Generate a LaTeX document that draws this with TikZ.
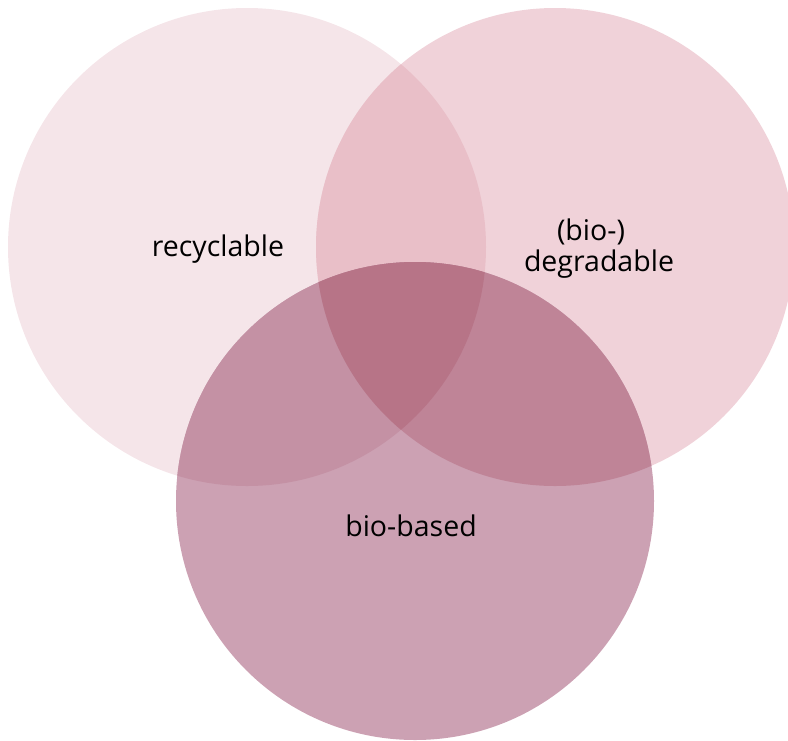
\documentclass[tikz,border=0pt]{standalone}
\usepackage{fontspec}
\setmainfont{Open Sans}
\definecolor{cA}{HTML}{F5E5E9}
\definecolor{cB}{HTML}{F0D2D9}
\definecolor{cC}{HTML}{CCA1B3}
\definecolor{cAB}{HTML}{E9BFC8}
\definecolor{cAC}{HTML}{C491A4}
\definecolor{cBC}{HTML}{BF8497}
\definecolor{cABC}{HTML}{B77487}
\tikzset{lbl/.style={inner sep=0pt, font=\fontsize{28.5}{34}\selectfont, text=black}}
\begin{document}
\begin{tikzpicture}[x=1pt,y=-1pt]
\useasboundingbox (0,0) rectangle (788,740);
\def\ra{239}
\clip (0,0) rectangle (788,740);
\fill[cA] (247,247) circle (\ra);
\fill[cB] (555,247) circle (\ra);
\fill[cC] (415,501) circle (\ra);
\begin{scope}
\clip (247,247) circle (\ra);
\fill[cAB] (555,247) circle (\ra);
\fill[cAC] (415,501) circle (\ra);
\end{scope}
\begin{scope}
\clip (555,247) circle (\ra);
\fill[cBC] (415,501) circle (\ra);
\clip (247,247) circle (\ra);
\fill[cABC] (415,501) circle (\ra);
\end{scope}
\node[lbl] (rec) at (218,249) {recyclable};
\node[lbl] (bio) at (591,232) {(bio-)};
\node[lbl] (deg) at (599,264) {degradable};
\node[lbl] (bb) at (411,526) {bio-based};
\end{tikzpicture}
\end{document}
